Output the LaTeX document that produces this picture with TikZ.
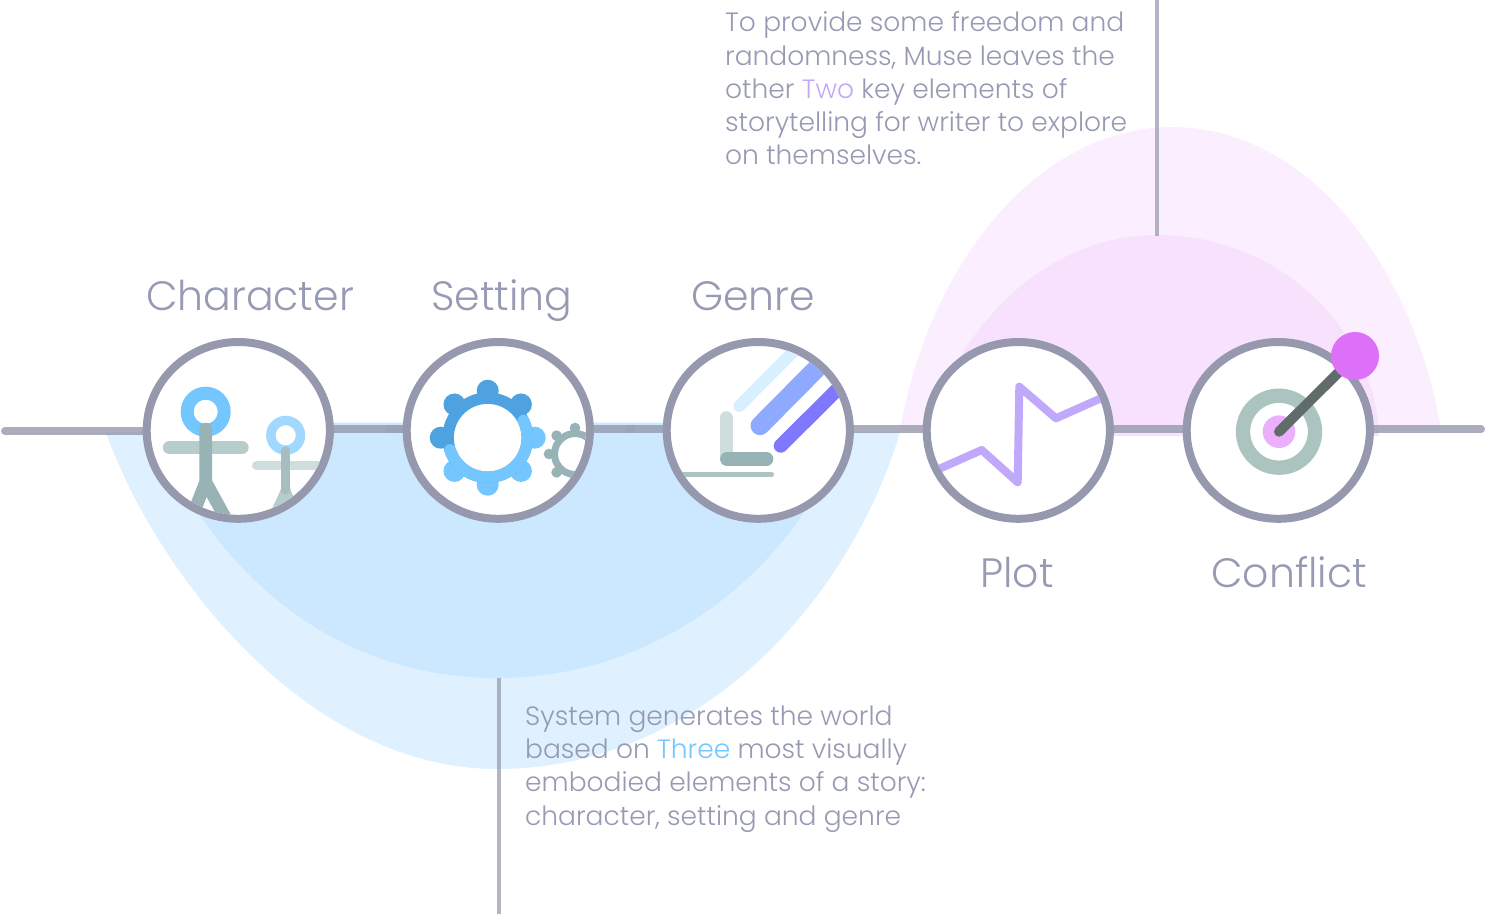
\documentclass[tikz,border=0pt]{standalone}
\usepackage{fontspec}
\setmainfont{Poppins}[UprightFont=* Light]
\usetikzlibrary{backgrounds,shapes.geometric}
\definecolor{ring}{HTML}{9699AD}
\definecolor{txt}{HTML}{969AB3}
\definecolor{blueA}{HTML}{DFF0FF}
\definecolor{blueB}{HTML}{CBE8FF}
\definecolor{pinkA}{HTML}{FBEEFF}
\definecolor{pinkB}{HTML}{F7E1FD}
\definecolor{sky}{HTML}{74C6FF}
\definecolor{skyL}{HTML}{A0D8FF}
\definecolor{skyD}{HTML}{4FA2E0}
\definecolor{sage}{HTML}{97B3B6}
\definecolor{sageL}{HTML}{B7CDCB}
\definecolor{sageP}{HTML}{CFDDDC}
\definecolor{sageT}{HTML}{ABC4BF}
\definecolor{lilac}{HTML}{C0A8FB}
\definecolor{needle}{HTML}{606C69}
\definecolor{pin}{HTML}{DC70F9}
\definecolor{pinL}{HTML}{ECAFFC}
\definecolor{penL}{HTML}{D8EFFF}
\definecolor{penM}{HTML}{8EA9FF}
\definecolor{penD}{HTML}{7F78FF}
\tikzset{
  stage/.style={ellipse,draw=ring,line width=8pt,fill=white,minimum width=183.2pt,minimum height=176.8pt,inner sep=0pt,outer sep=0pt},
  axis/.style={draw=ring,draw opacity=.8,line width=8pt},
  axisover/.style={draw=ring,draw opacity=.3,line width=8pt},
  leader/.style={draw=ring,draw opacity=.72,line width=4pt},
  title/.style={text=txt,font=\fontsize{41}{50}\selectfont,anchor=base},
  para/.style={text=txt,font=\fontsize{26.5}{33.3}\selectfont,anchor=north west,align=left,inner sep=0pt},
  icon/.style={line cap=round,line join=round},
}
\newcommand{\clipstage}[1]{\clip (#1) ellipse[x radius=87.6,y radius=84.4];}
\begin{document}
\begin{tikzpicture}[x=1pt,y=-1pt]
\useasboundingbox (0,0) rectangle (1486,914);
\node[stage] (character) at (238.3,430.4) {};
\node[stage] (setting) at (498.3,430.4) {};
\node[stage] (genre) at (758.3,430.4) {};
\node[stage] (plot) at (1018.3,430.4) {};
\node[stage] (conflict) at (1278.3,430.4) {};
\coordinate (axisL) at (5,431);
\coordinate (axisR) at (1481,429.4);
\coordinate (ovA) at (386,429.4);
\coordinate (ovB) at (625,429.4);
\coordinate (ovC) at (635,429.4);
\coordinate (topEnd) at (1157,0);
\coordinate (topStart) at (1157,236);
\coordinate (botStart) at (499,678);
\coordinate (botEnd) at (499,914);
\begin{pgfonlayer}{background}
\fill[blueA] (106,432) .. controls (150,560) and (300,769) .. (497,769)
  .. controls (700,769) and (850,600) .. (900,432) -- cycle;
\fill[blueB] (150,422.5) .. controls (215,580) and (340,678) .. (497,678)
  .. controls (655,678) and (795,575) .. (850,422.5) -- cycle;
\fill[pinkA] (900,430) .. controls (930,260) and (1040,127) .. (1172,127)
  .. controls (1310,127) and (1415,270) .. (1441,430) -- cycle;
\fill[pinkB] (925,436) .. controls (960,320) and (1050,235) .. (1157,235)
  .. controls (1280,235) and (1375,330) .. (1379,436) -- cycle;
\draw[axis,line cap=round] (axisL) -- (axisL -| character.west);
\draw[axis] ([yshift=1pt]character.east) -- ([yshift=1pt]setting.west);
\draw[axisover] (ovA) -- (ovA -| setting.west);
\draw[axis] ([yshift=1pt]setting.east) -- ([yshift=1pt]genre.west);
\draw[axisover] (ovB) -- (ovC);
\draw[axis] ([yshift=1pt]genre.east) -- ([yshift=1pt]plot.west);
\draw[axis] ([yshift=1pt]plot.east) -- ([yshift=1pt]conflict.west);
\draw[axis,line cap=round] ([yshift=1pt]conflict.east) -- (axisR);
\draw[leader] (topEnd) -- (topStart);
\draw[leader] (botStart) -- (botEnd);
\end{pgfonlayer}
% Character icon
\begin{scope}[icon]
\clipstage{character}
\draw[sky,line width=13] (205.7,411.7) circle[radius=18.5];
\draw[sageL,line width=13.3] (169.5,447.7) -- (242,447.7);
\draw[sage,line width=12.7] (205.7,429) -- (205.7,480) (190,522) -- (205.7,482) -- (232,530);
\draw[skyL,line width=9.5] (285.7,435.3) circle[radius=14.8];
\draw[sageP,line width=9] (256.5,465.3) -- (330,465.3);
\draw[sageL,line width=9.3] (272,520) -- (285.7,490);
\draw[sageL,line width=9.3] (296,515) -- (285.7,490);
\draw[sage!85!white,line width=9.3] (285.7,451) -- (285.7,490);
\end{scope}
% Setting icon
\begin{scope}[icon]
\clipstage{setting}
\begin{scope}[shift={(487.7,437.7)}]
\foreach \a in {-90,-135,180,-45}{\fill[skyD] (\a:47) circle[radius=11];}
\foreach \a in {0,45,90,135}{\fill[sky] (\a:47) circle[radius=11];}
\draw[skyD,line width=11.5,line cap=butt] (0,0) circle[radius=39.6];
\draw[sky,line width=11.5] (-25.7:39.6) arc[start angle=-25.7,end angle=162,radius=39.6];
\end{scope}
\begin{scope}[shift={(575,454)}]
\foreach \a in {0,45,...,315}{\fill[sage] (\a:26) circle[radius=5.3];}
\draw[sage,line width=7] (0,0) circle[radius=20.5];
\end{scope}
\end{scope}
% Genre icon
\begin{scope}[icon]
\clipstage{genre}
\draw[penL,line width=12] (739.3,406) -- (810,335);
\draw[penM,line width=19] (760,425.7) -- (840,345);
\draw[penD,line width=14] (780.7,445.7) -- (855,372);
\draw[sageP,line width=13] (726.3,417.7) -- (726.3,455);
\draw[sage,line width=13.3] (726.7,459) -- (766.7,459);
\draw[sageT,line width=5] (660,474.3) -- (771.5,474.3);
\end{scope}
% Plot icon
\begin{scope}[icon]
\clipstage{plot}
\draw[lilac,line width=8] (922,476.5) -- (981.7,450) -- (1017.7,482.3) -- (1019.3,386.7) -- (1056,418.3) -- (1115,392);
\end{scope}
% Conflict icon
\draw[sageT,line width=14.3] (1279,431.7) circle[radius=36];
\fill[pinL] (1279,431.7) circle[radius=16.3];
\coordinate (pinroot) at (1279,431.7);
\coordinate (pintip) at (1345,366);
\draw[needle,line width=10,line cap=round] (pinroot) -- (pintip);
\node[circle,fill=pin,minimum size=48pt,inner sep=0pt] (pinhead) at (1355,356) {};
% Titles
\node[title] (tCharacter) at (250,310.5) {Character};
\node[title] (tSetting) at (502,310.5) {Setting};
\node[title] (tGenre) at (753,310.5) {Genre};
\node[title] (tPlot) at (1017,587.5) {Plot};
\node[title] (tConflict) at (1289,587.5) {Conflict};
\node[para] (pTop) at (725,11.5) {To provide some freedom and\\randomness, Muse leaves the\\other \textcolor{lilac}{Two} key elements of\\storytelling for writer to explore\\on themselves.};
\node[para] (pBottom) at (525,705.5) {System generates the world\\based on \textcolor{sky}{Three} most visually\\embodied elements of a story:\\character, setting and genre};
\end{tikzpicture}
\end{document}
